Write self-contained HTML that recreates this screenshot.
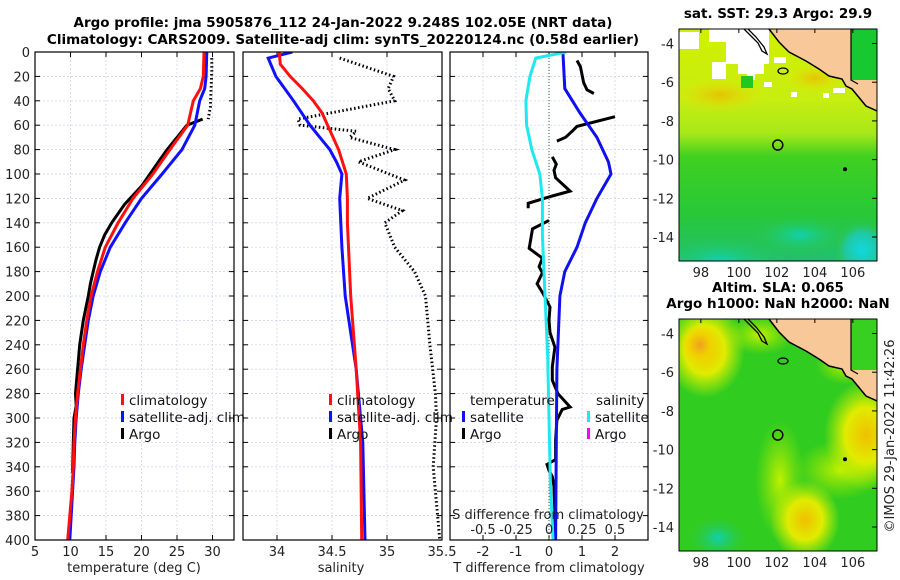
<!DOCTYPE html>
<html><head><meta charset="utf-8"><style>
html,body{margin:0;padding:0;background:#fff;width:900px;height:580px;overflow:hidden}
svg{display:block;font-family:"DejaVu Sans","Liberation Sans",sans-serif}
.tk{font-size:13px;fill:#222}
.tt{font-size:13.5px;font-weight:bold;fill:#000}
</style></head><body>
<svg id="c" width="900" height="580" viewBox="0 0 900 580" xmlns="http://www.w3.org/2000/svg">
<defs>
<clipPath id="cp1"><rect x="35" y="52" width="199" height="488"/></clipPath>
<clipPath id="cp2"><rect x="243" y="52" width="199" height="488"/></clipPath>
<clipPath id="cp3"><rect x="450" y="52" width="198" height="488"/></clipPath>
<clipPath id="cm1"><rect x="679" y="29" width="198" height="232"/></clipPath>
<clipPath id="cm2"><rect x="679" y="319" width="198" height="232"/></clipPath>
<linearGradient id="sstg" x1="0" y1="0" x2="0" y2="1">
<stop offset="0" stop-color="#d0f000"/><stop offset="0.3" stop-color="#c8ee10"/><stop offset="0.45" stop-color="#a8e818"/><stop offset="0.55" stop-color="#40d020"/><stop offset="0.8" stop-color="#28c838"/><stop offset="1" stop-color="#20c070"/>
</linearGradient>
<radialGradient id="or1"><stop offset="0" stop-color="#f0a020"/><stop offset="0.5" stop-color="#f0d000"/><stop offset="1" stop-color="#f0e000" stop-opacity="0"/></radialGradient>
<radialGradient id="ye1"><stop offset="0" stop-color="#f0c000"/><stop offset="0.5" stop-color="#e0ec00"/><stop offset="1" stop-color="#c8f000" stop-opacity="0"/></radialGradient>
<radialGradient id="yg1"><stop offset="0" stop-color="#c0f000"/><stop offset="1" stop-color="#a0e800" stop-opacity="0"/></radialGradient>
<radialGradient id="cy1"><stop offset="0" stop-color="#10d0b0"/><stop offset="1" stop-color="#30c840" stop-opacity="0"/></radialGradient>
<radialGradient id="cy2"><stop offset="0" stop-color="#10d8e0"/><stop offset="0.6" stop-color="#20c8a0"/><stop offset="1" stop-color="#30c840" stop-opacity="0"/></radialGradient>
<radialGradient id="or2"><stop offset="0" stop-color="#f0b000" stop-opacity="0.7"/><stop offset="1" stop-color="#f0e000" stop-opacity="0"/></radialGradient>
</defs>
<g id="root"></g>
</svg>
<script>
// ---------- data ----------
const depthTicks=[0,20,40,60,80,100,120,140,160,180,200,220,240,260,280,300,320,340,360,380,400];
const tempTicks=[5,10,15,20,25,30];
const salTicks=[34,34.5,35,35.5];
const tdiffTicks=[-2,-1,0,1,2];
const sdiffTicks=[-0.5,-0.25,0,0.25,0.5];
const sdiffTickLabels=["-0.5","-0.25","0","0.25","0.5"];

const tDepth=[0,20,30,40,60,80,100,120,140,160,180,200,220,240,260,280,300,320,340,360,380,400];
const tClim=[28.8,28.7,28.3,27.3,26.5,24.0,21.6,18.8,16.7,14.9,13.8,12.9,12.3,11.8,11.4,11.0,10.7,10.5,10.4,10.2,9.9,9.6];
const tSat=[29.2,29.1,28.9,28.2,27.5,25.7,22.9,20.0,17.7,15.6,14.2,13.2,12.5,12.0,11.5,11.1,10.8,10.6,10.5,10.3,10.1,9.9];
const argoTDepthTop=[5,15,30,45,55];
const argoTTop=[29.9,29.9,29.8,29.7,29.4];
const argoTDepth=[55,60,70,80,90,100,110,120,125,130,140,150,160,170,180,190,200,220,240,260,280,290,300,320,345];
const argoT=[28.6,26.4,25.0,23.6,22.4,21.2,20.0,18.4,17.6,17.0,15.8,14.8,14.1,13.6,13.2,12.8,12.5,11.8,11.3,11.0,10.7,10.8,10.5,10.4,10.3];

const sDepth=[0,10,20,30,40,50,60,80,100,120,140,160,200,260,320,400];
const sClim=[34.02,34.03,34.12,34.23,34.33,34.41,34.46,34.56,34.63,34.64,34.64,34.65,34.67,34.72,34.76,34.77];
const sDepthSat=[0,5,20,40,60,70,80,90,100,120,140,160,200,260,320,400];
const sSat=[34.14,33.92,33.99,34.15,34.30,34.39,34.48,34.54,34.59,34.57,34.58,34.59,34.62,34.72,34.78,34.80];
const argoSDepth=[5,20,30,40,55,60,65,70,80,90,105,120,130,140,160,180,200,240,280,300,340,380,400];
const argoS=[34.57,35.06,35.01,35.07,34.19,34.21,34.72,34.66,35.07,34.74,35.16,34.82,35.14,34.98,35.07,35.25,35.35,35.39,35.44,35.45,35.42,35.46,35.48];

const dTSatDepth=[0,30,50,70,90,100,120,140,160,180,200,260,320,400];
const dTSat=[0.42,0.48,0.94,1.45,1.80,1.88,1.45,1.10,0.85,0.48,0.33,0.24,0.22,0.20];
const dSSatDepth=[0,5,20,40,60,80,100,120,150,200,250,300,350,400];
const dSSat=[0.13,-0.10,-0.145,-0.175,-0.17,-0.13,-0.07,-0.05,-0.05,-0.03,-0.01,0.0,0.01,0.03];
const dTArgoSegs=[
 {d:[7,12,25,31,34],v:[0.85,0.95,1.05,1.15,1.36]},
 {d:[53,61,65,70,73],v:[2.0,0.85,0.7,0.5,0.24]},
 {d:[86,92,97,103,114,118,124,128],v:[0.1,0.22,0.15,0.2,0.64,0.1,-0.63,-0.63]},
 {d:[138,145,161,169,176,181,190,198,209,220,230,242,258,269,280,291,293,302,318,334,338,343,348,356,397],
  v:[0.0,-0.5,-0.6,-0.2,-0.3,-0.2,-0.36,-0.18,0.03,0.0,0.03,0.18,0.1,0.1,0.27,0.64,0.4,0.24,0.2,0.2,-0.06,0.0,0.1,0.15,0.2]}
];
const latTicks=[-4,-6,-8,-10,-12,-14];
const lonTicks=[98,100,102,104,106];
const argoLon=102.05, argoLat=-9.248;

// ---------- helpers ----------
const NS="http://www.w3.org/2000/svg";
const root=document.getElementById('root');
function mk(tag,attrs,parent){const e=document.createElementNS(NS,tag);for(const k in attrs)e.setAttribute(k,attrs[k]);(parent||root).appendChild(e);return e;}
function txt(x,y,s,cls,anchor,parent){const t=mk('text',{x:x,y:y,'class':cls||'tk','text-anchor':anchor||'middle'},parent);t.textContent=s;return t;}
const y0=52,y1=540;
const yD=d=>y0+(d/400)*(y1-y0);
const xT=v=>35+(v-5)*7.1;
const xS=v=>277+(v-34)*110;
const xDT=v=>549+v*33;
const xDS=v=>549+v*132;
function path(xs,ds,xf,attrs,parent){let s='';for(let i=0;i<xs.length;i++)s+=(i?'L':'M')+xf(xs[i]).toFixed(1)+','+yD(ds[i]).toFixed(1);attrs.d=s;attrs.fill='none';return mk('path',attrs,parent);}

function panel(x0,x1,name,xticksPx,cp){
  const g=mk('g',{});
  
  
  for(const d of depthTicks){mk('line',{x1:x0,x2:x1,y1:yD(d),y2:yD(d),stroke:'#c8cff0','stroke-width':0.7,'stroke-dasharray':'2,2'},g);}
  for(const px of xticksPx){mk('line',{x1:px,x2:px,y1:y0,y2:y1,stroke:'#c8cff0','stroke-width':0.7,'stroke-dasharray':'2,2'},g);}
  for(const d of depthTicks){mk('line',{x1:x0,x2:x0+5,y1:yD(d),y2:yD(d),stroke:'#000'},g);mk('line',{x1:x1,x2:x1-5,y1:yD(d),y2:yD(d),stroke:'#000'},g);}
  for(const px of xticksPx){mk('line',{x1:px,x2:px,y1:y1,y2:y1-5,stroke:'#000'},g);mk('line',{x1:px,x2:px,y1:y0,y2:y0+5,stroke:'#000'},g);}
  const plot=mk('g',{'clip-path':'url(#'+cp+')'},g);
  mk('rect',{x:x0,y:y0,width:x1-x0,height:y1-y0,fill:'none',stroke:'#000','stroke-width':1.2},g);
  return plot;
}

const t1=txt(343,27,'Argo profile: jma 5905876_112 24-Jan-2022 9.248S 102.05E (NRT data)','tt');

const t2=txt(343,44,'Climatology: CARS2009. Satellite-adj clim: synTS_20220124.nc (0.58d earlier)','tt');


const yl=mk('g',{});


for(const d of depthTicks)txt(30,yD(d)+5,String(d),'tk','end',yl);

// ---------- panel 1 ----------
const p1=panel(35,234,'temperature-panel',tempTicks.map(xT),'cp1');
const x1l=mk('g',{});
for(const v of tempTicks)txt(xT(v),556,String(v),'tk','middle',x1l);
const xa1=txt(134,572,'temperature (deg C)');
let e;
e=path(argoTTop,argoTDepthTop,xT,{stroke:'#000','stroke-width':3,'stroke-dasharray':'1.5,2.5'},p1);

e=path(argoT,argoTDepth,xT,{stroke:'#000','stroke-width':3},p1);

e=path(tSat,tDepth,xT,{stroke:'#1010ff','stroke-width':3},p1);

e=path(tClim,tDepth,xT,{stroke:'#ff1010','stroke-width':3},p1);


function legend(x,ys,items,name,hx){
  const g=mk('g',{});
  
  
  items.forEach((it,i)=>{
    if(it.c)mk('rect',{x:x,y:ys[i]-11,width:3,height:11,fill:it.c},g);
    const tx=it.c?x+8:(hx!==undefined?hx:x);
    txt(tx,ys[i],it.t,'tk','start',g).setAttribute('style','font-size:13.5px;fill:#111');
  });
}
legend(121,[405,422,439],[{c:'#ff1010',t:'climatology'},{c:'#1010ff',t:'satellite-adj. clim'},{c:'#000',t:'Argo'}],'temperature-legend');

// ---------- panel 2 ----------
const p2=panel(243,442,'salinity-panel',salTicks.map(xS),'cp2');
const x2l=mk('g',{});
for(const v of salTicks)txt(xS(v),556,String(v),'tk','middle',x2l);
const xa2=txt(341,572,'salinity');
e=path(argoS,argoSDepth,xS,{stroke:'#000','stroke-width':3,'stroke-dasharray':'1.5,2.5'},p2);

e=path(sSat,sDepthSat,xS,{stroke:'#1010ff','stroke-width':3},p2);

e=path(sClim,sDepth,xS,{stroke:'#ff1010','stroke-width':3},p2);

legend(329,[405,422,439],[{c:'#ff1010',t:'climatology'},{c:'#1010ff',t:'satellite-adj. clim'},{c:'#000',t:'Argo'}],'salinity-legend');

// ---------- panel 3 ----------
const p3=panel(450,648,'difference-panel',tdiffTicks.map(xDT),'cp3');
const x3l=mk('g',{});
for(const v of tdiffTicks)txt(xDT(v),556,String(v),'tk','middle',x3l);
const x3s=mk('g',{});
sdiffTicks.forEach((v,i)=>txt(xDS(v),534,sdiffTickLabels[i],'tk','middle',x3s));
const xa3=txt(549,572,'T difference from climatology');
const xa3b=txt(548,519,'S difference from climatology');
e=mk('line',{x1:xDT(0),x2:xDT(0),y1:y0,y2:y1,stroke:'#445533','stroke-width':1,'stroke-dasharray':'1,2'},p3);

dTArgoSegs.forEach((s,i)=>{const p=path(s.v,s.d,xDT,{stroke:'#000','stroke-width':3},p3);
 });
e=path(dTSat,dTSatDepth,xDT,{stroke:'#1010ee','stroke-width':3},p3);

e=path(dSSat,dSSatDepth,xDS,{stroke:'#20e8f0','stroke-width':3},p3);

legend(462,[405,422,439],[{c:null,t:'temperature'},{c:'#1010ff',t:'satellite'},{c:'#000',t:'Argo'}],'tdiff-legend',470);
legend(587,[405,422,439],[{c:null,t:'salinity'},{c:'#20e8f0',t:'satellite'},{c:'#ff00ff',t:'Argo'}],'sdiff-legend',596);

// ---------- maps ----------
const lonX=v=>679+(v-96.85)*19;
function mapFrame(top,name,cp,fillFn,title,stripColor){
  const o=top-29;
  const latY=v=>top+(-3.25-v)*19.35;
  const g=mk('g',{});
  const inner=mk('g',{'clip-path':'url(#'+cp+')'},g);
  fillFn(inner,latY);
  mk('rect',{x:851,y:top,width:26,height:52,fill:stripColor},inner);
  const coast=[[877,111],[866,106],[852,89],[846,86],[842,79],[829,76],[819,69],[806,61],[789,52],[779,42],[769,29]];
  let d='M769,'+top+' L851,'+top+' L851,'+(top+51)+' L877,'+(top+51);
  coast.forEach(p=>{d+=' L'+p[0]+','+(p[1]+o);});
  d+=' Z';
  const land=mk('path',{d:d,fill:'#f8c898',stroke:'none'},inner);
  
  let cd='M'+coast.map(p=>p[0]+','+(p[1]+o)).join(' L');
  mk('path',{d:cd,fill:'none',stroke:'#000','stroke-width':1.5},inner);
  mk('path',{d:`M851,${top} L851,${top+51} L858,${top+55}`,fill:'none',stroke:'#000','stroke-width':1.2},inner);
  mk('path',{d:`M744,${top} L750,${top+6} L758,${top+14} L762,${top+22} L767,${top+25} L764,${top+18} L756,${top+8} L748,${top}`,fill:'none',stroke:'#000','stroke-width':1.3},inner);
  mk('ellipse',{cx:783,cy:top+42,rx:5,ry:3,fill:'none',stroke:'#000','stroke-width':1.3},inner);
  mk('circle',{cx:845,cy:latY(-10.5),r:2,fill:'#000'},inner);
  const c=mk('circle',{cx:lonX(argoLon),cy:latY(argoLat),r:5,fill:'none',stroke:'#000','stroke-width':1.5},inner);
  
  mk('rect',{x:679,y:top,width:198,height:232,fill:'none',stroke:'#000','stroke-width':1},g);
  for(const v of latTicks){const y=latY(v);mk('line',{x1:877,x2:872,y1:y,y2:y,stroke:'#000'},g);txt(674,y+5,String(v),'tk','end',g);}
  for(const v of lonTicks){const x=lonX(v);mk('line',{x1:x,x2:x,y1:top,y2:top+4,stroke:'#000'},g);txt(x,top+248,String(v),'tk','middle',g);}
  title.forEach((s,i)=>{txt(778,top-11-(title.length-1-i)*16,s,'tt');});
  return g;
}
mapFrame(29,'sst-map','cm1',(g,latY)=>{
  mk('rect',{x:679,y:29,width:198,height:232,fill:'url(#sstg)'},g);
  mk('ellipse',{cx:720,cy:95,rx:45,ry:18,fill:'url(#or2)'},g);
  mk('ellipse',{cx:815,cy:78,rx:30,ry:15,fill:'url(#or2)'},g);
  mk('ellipse',{cx:862,cy:250,rx:28,ry:30,fill:'url(#cy2)'},g);
  mk('ellipse',{cx:720,cy:260,rx:70,ry:25,fill:'url(#cy1)'},g);
  mk('ellipse',{cx:800,cy:235,rx:50,ry:20,fill:'url(#cy1)'},g);
  const wh=[[679,32,20,17],[709,29,60,13],[726,42,43,22],[738,64,26,10],[712,62,14,17],[747,74,8,6],[774,57,12,6],[764,82,8,5],[791,92,6,5],[823,93,6,5],[833,88,12,5],[822,63,6,5]];
  wh.forEach(r=>mk('rect',{x:r[0],y:r[1],width:r[2],height:r[3],fill:'#fff'},g));
  mk('rect',{x:741,y:76,width:12,height:12,fill:'#20c820'},g);
},['sat. SST: 29.3 Argo: 29.9'],'#18c830');
mapFrame(319,'sla-map','cm2',(g,latY)=>{
  mk('rect',{x:679,y:319,width:198,height:232,fill:'#30cc20'},g);
  mk('ellipse',{cx:760,cy:335,rx:35,ry:20,fill:'url(#yg1)'},g);
  mk('ellipse',{cx:780,cy:480,rx:25,ry:60,fill:'url(#yg1)'},g);
  mk('ellipse',{cx:840,cy:470,rx:45,ry:30,fill:'url(#yg1)'},g);
  mk('ellipse',{cx:705,cy:350,rx:40,ry:48,fill:'url(#ye1)'},g);
  mk('ellipse',{cx:700,cy:345,rx:20,ry:22,fill:'url(#or1)'},g);
  mk('ellipse',{cx:866,cy:435,rx:42,ry:55,fill:'url(#ye1)'},g);
  mk('ellipse',{cx:805,cy:520,rx:35,ry:40,fill:'url(#ye1)'},g);
  mk('ellipse',{cx:845,cy:365,rx:30,ry:20,fill:'url(#yg1)'},g);
  mk('ellipse',{cx:718,cy:538,rx:30,ry:22,fill:'url(#cy1)'},g);
},['Altim. SLA: 0.065','Argo h1000: NaN h2000: NaN'],'#38d020');

const cr=txt(0,0,'©IMOS 29-Jan-2022 11:42:26','tk','middle');
cr.setAttribute('transform','translate(894,436) rotate(-90)');

</script>
</body></html>
